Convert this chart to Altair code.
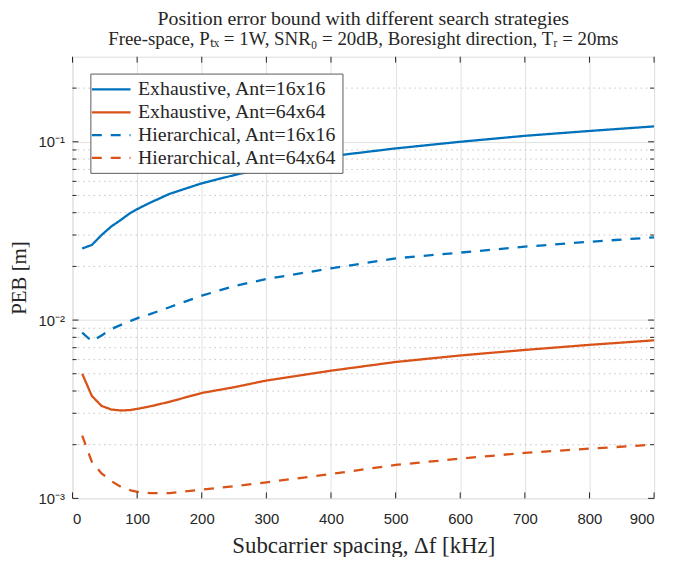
import altair as alt
import pandas as pd

# ---- data ----
x_khz = [15, 30, 45, 60, 75, 90, 105, 120, 150, 200, 250, 300, 400, 500, 600, 700, 800, 900]
exh16 = [0.0252, 0.0264, 0.0300, 0.0335, 0.0365, 0.0400, 0.0428, 0.0455, 0.0510, 0.0585,
         0.0650, 0.0715, 0.0830, 0.0918, 0.1000, 0.1080, 0.1150, 0.1220]
exh64 = [0.0050, 0.00375, 0.0033, 0.00315, 0.00311, 0.00313, 0.0032, 0.00328, 0.00348, 0.0039,
         0.0042, 0.00458, 0.0052, 0.00582, 0.00633, 0.0068, 0.00726, 0.0077]
hier16 = [0.0085, 0.0076, 0.0082, 0.0089, 0.0094, 0.0099, 0.0104, 0.0108, 0.0118, 0.0137,
          0.0155, 0.0170, 0.0195, 0.0222, 0.0239, 0.0258, 0.0275, 0.0291]
hier64 = [0.00225, 0.0016, 0.00138, 0.00125, 0.00116, 0.00111, 0.00108, 0.00107, 0.00107, 0.00112,
          0.00117, 0.00123, 0.00137, 0.00154, 0.00167, 0.0018, 0.0019, 0.0020]

series_names = ["Exhaustive, Ant=16x16", "Exhaustive, Ant=64x64",
                "Hierarchical, Ant=16x16", "Hierarchical, Ant=64x64"]
series_values = [exh16, exh64, hier16, hier64]

x_ticks = [0, 100, 200, 300, 400, 500, 600, 700, 800, 900]
y_major = [0.001, 0.01, 0.1]
y_minor = [0.002, 0.003, 0.004, 0.005, 0.006, 0.007, 0.008, 0.009,
           0.02, 0.03, 0.04, 0.05, 0.06, 0.07, 0.08, 0.09, 0.2]

rows = []
for name, vals in zip(series_names, series_values):
    for xv, yv in zip(x_khz, vals):
        rows.append({"x": xv, "y": yv, "series": name})
df = pd.DataFrame(rows)

W, H = 586, 445
BLUE, ORANGE = "#0072BD", "#D95319"
AX = "#262626"
SERIF = "Liberation Serif"
SANS = "Liberation Sans"

xscale = alt.Scale(domain=[0, 900], nice=False, zero=False)
yscale = alt.Scale(type="log", domain=[0.001, 0.3], nice=False)

x_axis = alt.Axis(
    values=x_ticks, title="Subcarrier spacing, Δf [kHz]",
    grid=True, gridColor="#e2e2e2", gridWidth=1,
    ticks=False, tickSize=0, domain=False,
    labelFont=SANS, labelFontSize=15, labelColor=AX, labelPadding=13,
    titleFont=SERIF, titleFontSize=23, titleFontWeight="normal",
    titleColor=AX, titlePadding=9)
y_axis = alt.Axis(
    values=y_major, title="PEB [m]",
    labelExpr="datum.value < 0.005 ? '10⁻³' : datum.value < 0.05 ? '10⁻²' : '10⁻¹'",
    grid=True, gridColor="#e2e2e2", gridWidth=1,
    ticks=False, tickSize=0, domain=False,
    labelFont=SANS, labelFontSize=15, labelColor=AX, labelPadding=8,
    titleFont=SERIF, titleFontSize=21, titleFontWeight="normal",
    titleColor=AX, titlePadding=9)

legend = alt.Legend(
    title=None, orient="none", legendX=18, legendY=17,
    fillColor="white", strokeColor="#5a5a5a", padding=5,
    symbolType="M-2,0H2", symbolSize=380, symbolStrokeWidth=2.3, symbolOffset=5,
    labelFont=SERIF, labelFontSize=20, labelColor=AX, labelOffset=16,
    labelLimit=400, rowPadding=2, zindex=1,
)

lines = alt.Chart(df).mark_line(strokeWidth=2.3, clip=True).encode(
    x=alt.X("x:Q", scale=xscale, axis=x_axis),
    y=alt.Y("y:Q", scale=yscale, axis=y_axis),
    color=alt.Color("series:N", scale=alt.Scale(domain=series_names,
                    range=[BLUE, ORANGE, BLUE, ORANGE]), legend=legend),
    strokeDash=alt.StrokeDash("series:N", scale=alt.Scale(domain=series_names,
                              range=[[1, 0], [1, 0], [10, 9], [10, 9]]), legend=legend),
    order=alt.Order("x:Q"),
)

minor_df = pd.DataFrame({"y": y_minor})
major_df = pd.DataFrame({"y": y_major})
xt_df = pd.DataFrame({"x": x_ticks})

minor_grid = alt.Chart(minor_df).mark_rule(color="#c4c4c4", strokeWidth=1, strokeDash=[1.5, 3.8]).encode(
    y=alt.Y("y:Q", scale=yscale, axis=y_axis), x=alt.value(0), x2=alt.value(W))

def yt(data, x1, x2):
    return alt.Chart(data).mark_rule(color=AX, strokeWidth=1).encode(
        y=alt.Y("y:Q", scale=yscale, axis=y_axis), x=alt.value(x1), x2=alt.value(x2))

def xt(y1, y2):
    return alt.Chart(xt_df).mark_rule(color=AX, strokeWidth=1).encode(
        x=alt.X("x:Q", scale=xscale, axis=x_axis), y=alt.value(y1), y2=alt.value(y2))

ticks = [
    yt(major_df, 0, 6), yt(major_df, W - 6, W),
    yt(minor_df, 0, 4), yt(minor_df, W - 4, W),
    xt(H, H - 6), xt(0, 6),
]

chart = alt.layer(minor_grid, lines, *ticks).properties(
    width=W, height=H,
    autosize=alt.AutoSizeParams(type="none"),
    padding={"left": 65, "top": 47, "right": 12, "bottom": 57},
    title=alt.TitleParams(
        text="Position error bound with different search strategies",
        subtitle="Free-space, Pₜₓ = 1W, SNR₀ = 20dB, Boresight direction, Tᵣ = 20ms",
        font=SERIF, fontSize=20, fontWeight="normal", color=AX,
        subtitleFont=SERIF, subtitleFontSize=19, subtitleColor=AX,
        anchor="middle", offset=7, subtitlePadding=1),
).configure_view(stroke="#3a3a3a", strokeWidth=1).configure(background="white")

chart.save("out.html", embed_options={"renderer": "svg", "actions": False})
